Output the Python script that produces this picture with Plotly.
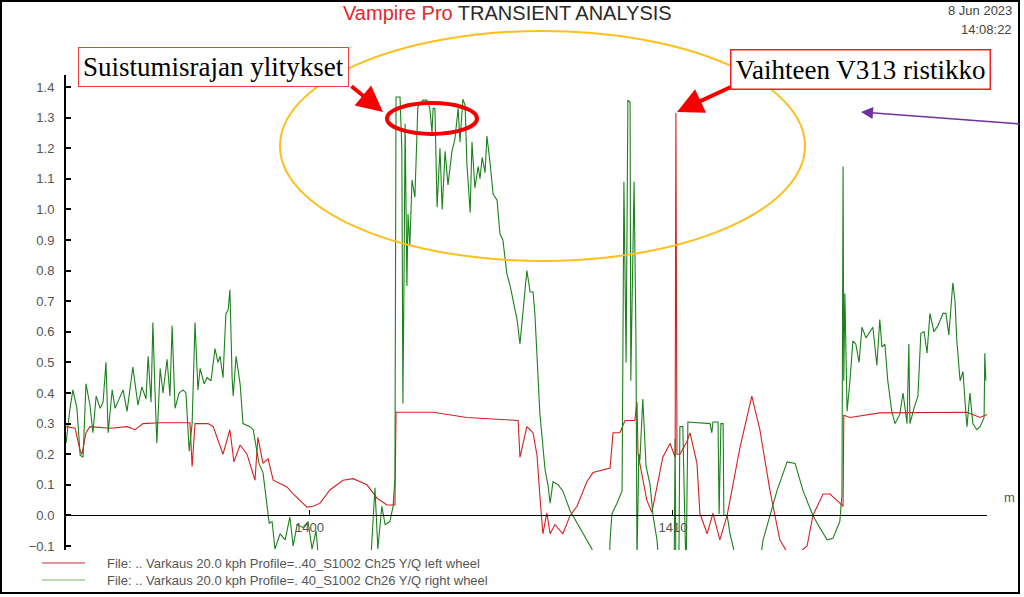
import plotly.graph_objects as go

# ---------------- data (distance in m, Y/Q ratio) ----------------
left_x = [1393.30, 1393.55, 1393.69, 1393.74, 1393.85, 1393.96, 1394.51, 1394.98, 1395.20, 1395.42,
          1395.89, 1396.71, 1396.77, 1396.85, 1397.21, 1397.35, 1397.62, 1397.81, 1397.92, 1398.09,
          1398.28, 1398.50, 1398.58, 1398.72, 1398.86, 1399.00, 1399.38, 1399.55, 1399.93, 1400.10,
          1400.29, 1400.56, 1400.92, 1401.20, 1401.58, 1401.86, 1402.13, 1402.35, 1402.38, 1403.40,
          1404.33, 1405.60, 1405.74, 1405.79, 1405.98, 1406.15, 1406.26, 1406.34, 1406.42, 1406.53,
          1406.62, 1406.75, 1406.97, 1407.17, 1407.36, 1407.63, 1407.80, 1408.27, 1408.35, 1408.54,
          1408.68, 1408.95, 1409.01, 1409.04, 1409.17, 1409.28, 1409.42, 1409.56, 1409.72, 1409.92,
          1410.06, 1410.08, 1410.11, 1410.19, 1410.38, 1410.47, 1410.66, 1410.74, 1410.94, 1411.10,
          1411.29, 1411.49, 1411.84, 1412.17, 1412.39, 1412.67, 1412.94, 1413.14, 1413.49, 1413.69,
          1413.85, 1414.13, 1414.32, 1414.59, 1414.68, 1414.70, 1414.87, 1415.69, 1416.60, 1417.54,
          1418.09, 1418.45, 1418.64]
left_y = [0.29, 0.285, 0.21, 0.20, 0.27, 0.29, 0.285, 0.29, 0.28, 0.30,
          0.303, 0.303, 0.16, 0.30, 0.30, 0.29, 0.20, 0.28, 0.175, 0.23,
          0.20, 0.115, 0.255, 0.17, 0.185, 0.115, 0.093, 0.07, 0.027, 0.03,
          0.04, 0.083, 0.115, 0.12, 0.10, 0.056, 0.034, 0.034, 0.337, 0.337,
          0.32, 0.31, 0.31, 0.19, 0.29, 0.27, 0.195, 0.06, -0.06, 0.008,
          -0.06, -0.03, -0.06, 0.0, 0.03, 0.11, 0.14, 0.155, 0.27, 0.27,
          0.31, 0.31, 0.37, 0.20, 0.12, 0.05, 0.01, 0.09, 0.19, 0.235,
          0.19, 1.315, 0.20, 0.20, 0.24, 0.27, 0.17, 0.007, -0.06, 0.007,
          -0.08, 0.0, 0.22, 0.39, 0.28, 0.08, -0.08, -0.12, -0.12, -0.10,
          0.0, 0.07, 0.07, 0.04, 0.03, 0.327, 0.32, 0.335, 0.335, 0.337,
          0.337, 0.32, 0.33]

right_x = [1393.30, 1393.41, 1393.49, 1393.60, 1393.69, 1393.77, 1393.85, 1393.96, 1394.04, 1394.13,
           1394.24, 1394.32, 1394.40, 1394.46, 1394.57, 1394.65, 1394.76, 1394.87, 1394.98, 1395.14,
           1395.28, 1395.39, 1395.50, 1395.56, 1395.64, 1395.69, 1395.75, 1395.80, 1395.89, 1395.97,
           1396.08, 1396.16, 1396.22, 1396.30, 1396.41, 1396.52, 1396.60, 1396.69, 1396.77, 1396.85,
           1396.93, 1396.99, 1397.10, 1397.18, 1397.29, 1397.40, 1397.48, 1397.54, 1397.62, 1397.70,
           1397.76, 1397.81, 1397.87, 1397.90, 1397.98, 1398.09, 1398.17, 1398.36, 1398.45, 1398.56,
           1398.61, 1398.72, 1398.83, 1398.89, 1398.97, 1399.05, 1399.19, 1399.33, 1399.46, 1399.55,
           1399.66, 1399.82, 1399.96, 1400.07, 1400.18, 1400.29, 1401.66, 1401.80, 1401.88, 1401.99,
           1402.08, 1402.21, 1402.30, 1402.35, 1402.38, 1402.49, 1402.54, 1402.57, 1402.60, 1402.63,
           1402.68, 1402.71, 1402.76, 1402.82, 1402.90, 1402.96, 1402.98, 1403.12, 1403.23, 1403.31,
           1403.37, 1403.40, 1403.45, 1403.51, 1403.59, 1403.65, 1403.73, 1403.81, 1403.92, 1404.00,
           1404.09, 1404.14, 1404.22, 1404.28, 1404.33, 1404.42, 1404.47, 1404.55, 1404.64, 1404.69,
           1404.75, 1404.83, 1404.88, 1404.97, 1405.05, 1405.16, 1405.24, 1405.32, 1405.43, 1405.52,
           1405.60, 1405.71, 1405.79, 1405.87, 1405.98, 1406.07, 1406.15, 1406.20, 1406.26, 1406.34,
           1406.48, 1406.56, 1406.62, 1406.70, 1406.84, 1406.97, 1407.17, 1407.44, 1407.63, 1407.77,
           1407.99, 1408.24, 1408.27, 1408.32, 1408.46, 1408.60, 1408.65, 1408.71, 1408.76, 1408.82,
           1408.84, 1408.90, 1408.93, 1408.98, 1409.01, 1409.06, 1409.09, 1409.17, 1409.26, 1409.37,
           1409.45, 1409.56, 1409.64, 1410.03, 1410.06, 1410.08, 1410.16, 1410.19, 1410.27, 1410.36,
           1410.41, 1411.02, 1411.07, 1411.10, 1411.24, 1411.27, 1411.32, 1411.38, 1411.40, 1411.49,
           1411.57, 1411.65, 1411.84, 1412.34, 1412.48, 1412.67, 1412.86, 1413.14, 1413.36, 1413.58,
           1413.85, 1414.04, 1414.24, 1414.40, 1414.59, 1414.65, 1414.68, 1414.70, 1414.73, 1414.79,
           1414.87, 1414.95, 1415.03, 1415.12, 1415.20, 1415.31, 1415.42, 1415.50, 1415.61, 1415.69,
           1415.75, 1415.83, 1415.91, 1416.02, 1416.11, 1416.16, 1416.24, 1416.33, 1416.44, 1416.49,
           1416.52, 1416.63, 1416.74, 1416.82, 1416.91, 1416.99, 1417.07, 1417.18, 1417.29, 1417.43,
           1417.51, 1417.59, 1417.68, 1417.70, 1417.76, 1417.81, 1417.90, 1417.98, 1418.06, 1418.09,
           1418.17, 1418.25, 1418.36, 1418.45, 1418.56, 1418.58, 1418.61]
right_y = [0.236, 0.35, 0.41, 0.35, 0.197, 0.19, 0.43, 0.36, 0.27, 0.39,
           0.35, 0.37, 0.50, 0.27, 0.41, 0.35, 0.38, 0.41, 0.34, 0.485,
           0.36, 0.42, 0.38, 0.52, 0.37, 0.63, 0.40, 0.236, 0.48, 0.40,
           0.51, 0.39, 0.62, 0.35, 0.40, 0.41, 0.40, 0.21, 0.30, 0.63,
           0.41, 0.48, 0.43, 0.45, 0.44, 0.545, 0.50, 0.52, 0.45, 0.66,
           0.67, 0.737, 0.45, 0.39, 0.52, 0.43, 0.30, 0.29, 0.28, 0.20,
           0.17, 0.14, 0.04, -0.025, -0.02, -0.11, -0.06, -0.08, -0.005, -0.10,
           -0.03, -0.04, -0.02, -0.11, -0.05, -0.20, -0.20, 0.09, -0.11, 0.03,
           -0.03, -0.02, 0.03, 0.12, 1.367, 1.367, 1.20, 0.366, 0.77, 1.28,
           0.75, 0.985, 0.88, 1.096, 1.04, 1.26, 1.335, 1.357, 1.357, 1.33,
           1.25, 1.33, 1.33, 1.007, 1.20, 1.00, 1.19, 1.08, 1.19, 1.23,
           1.33, 1.22, 1.36, 1.34, 1.15, 0.99, 1.22, 1.07, 1.14, 1.10,
           1.17, 1.12, 1.24, 1.15, 1.05, 1.03, 0.92, 0.90, 0.79, 0.75,
           0.70, 0.64, 0.56, 0.66, 0.80, 0.73, 0.73, 0.66, 0.53, 0.33,
           0.15, 0.10, 0.04, 0.11, 0.10, 0.08, 0.015, -0.04, -0.08, -0.11,
           -0.20, -0.20, -0.08, 0.005, 0.04, 0.08, 1.09, 0.50, 1.357, 1.35,
           0.44, 0.99, 1.09, 0.60, -0.15, 0.20, 0.18, 0.38, 0.16, 0.10,
           0.0, -0.08, -0.20, -0.20, 0.25, -0.20, -0.20, 0.29, 0.29, -0.20,
           0.305, 0.30, 0.27, 0.305, 0.305, 0.005, 0.30, 0.30, 0.0, 0.0,
           -0.06, -0.10, -0.20, -0.20, -0.08, 0.0, 0.08, 0.175, 0.17, 0.08,
           0.0, -0.04, -0.08, -0.075, -0.02, 0.07, 1.14, 0.44, 0.725, 0.34,
           0.44, 0.57, 0.56, 0.50, 0.615, 0.58, 0.60, 0.615, 0.49, 0.64,
           0.55, 0.56, 0.44, 0.34, 0.30, 0.31, 0.33, 0.40, 0.30, 0.56,
           0.30, 0.35, 0.39, 0.595, 0.60, 0.53, 0.66, 0.60, 0.62, 0.66,
           0.66, 0.59, 0.725, 0.76, 0.70, 0.57, 0.44, 0.47, 0.33, 0.29,
           0.40, 0.30, 0.28, 0.29, 0.32, 0.53, 0.44]

y_ticks = [-0.1, 0.0, 0.1, 0.2, 0.3, 0.4, 0.5, 0.6, 0.7, 0.8, 0.9, 1.0, 1.1, 1.2, 1.3, 1.4]
x_ticks = [1400, 1410]
x_tick_labels = ["1400", "1410"]
legend_labels = ["File: .. Varkaus 20.0 kph Profile=..40_S1002 Ch25 Y/Q left wheel",
                 "File: .. Varkaus 20.0 kph Profile=. 40_S1002 Ch26 Y/Q right wheel"]

# ---------------- layout geometry ----------------
W, H = 1024, 597
ML, MR, MT, MB = 66, 37, 75, 47
PW, PH = W - ML - MR, H - MT - MB
Y_RANGE = [-0.113, 1.439]
X_RANGE = [1393.30, 1418.64]


def px(x):
    return (x - ML) / PW


def py(y):
    return (H - MB - y) / PH


RED = "rgb(214,32,32)"
GREEN = "rgb(28,128,28)"
GRAY = "#555555"
SANS = "Liberation Sans, Arial, sans-serif"
SERIF = "Liberation Serif, Times New Roman, serif"

fig = go.Figure()
fig.add_trace(go.Scatter(x=left_x, y=left_y, mode="lines", line=dict(color=RED, width=1.1),
                         name="left wheel", showlegend=False))
fig.add_trace(go.Scatter(x=right_x, y=right_y, mode="lines", line=dict(color=GREEN, width=1.1),
                         name="right wheel", showlegend=False))

zero_pos = (0 - Y_RANGE[0]) / (Y_RANGE[1] - Y_RANGE[0])

fig.update_layout(
    width=W, height=H,
    margin=dict(l=ML, r=MR, t=MT, b=MB, pad=0),
    paper_bgcolor="white", plot_bgcolor="white",
    showlegend=False,
    font=dict(family=SANS, color=GRAY, size=12),
    xaxis=dict(range=X_RANGE, tickvals=x_ticks, ticktext=x_tick_labels,
               showgrid=False, zeroline=False, showline=True, linecolor="black", linewidth=1.2,
               ticks="inside", ticklen=5, tickcolor="black", tickwidth=1.2,
               anchor="free", position=zero_pos,
               tickfont=dict(family=SANS, size=13, color=GRAY)),
    yaxis=dict(range=Y_RANGE, tickvals=y_ticks, tickformat=".1f",
               showgrid=False, zeroline=False, showline=True, linecolor="black", linewidth=2,
               ticks="inside", ticklen=5, tickcolor="black", tickwidth=2,
               ticklabelstandoff=7,
               tickfont=dict(family=SANS, size=13, color=GRAY)),
)

shapes = []
# outer frame
shapes.append(dict(type="rect", xref="paper", yref="paper", x0=px(1), x1=px(1019), y0=py(1), y1=py(593),
                   line=dict(color="black", width=2), fillcolor="rgba(0,0,0,0)", layer="above"))
# legend lines
shapes.append(dict(type="line", xref="paper", yref="paper", x0=px(42), x1=px(85), y0=py(563), y1=py(563),
                   line=dict(color="rgb(200,50,50)", width=1.2)))
shapes.append(dict(type="line", xref="paper", yref="paper", x0=px(42), x1=px(85), y0=py(580), y1=py(580),
                   line=dict(color="rgb(110,180,110)", width=1.2)))
# orange ellipse
shapes.append(dict(type="circle", xref="paper", yref="paper", x0=px(280), x1=px(805), y0=py(31), y1=py(261),
                   line=dict(color="rgb(255,190,30)", width=2), layer="above"))
# red ellipse
shapes.append(dict(type="circle", xref="paper", yref="paper", x0=px(387), x1=px(477), y0=py(103), y1=py(134),
                   line=dict(color="rgb(240,0,0)", width=4), layer="above"))
fig.update_layout(shapes=shapes)

ann = []
# title
ann.append(dict(xref="paper", yref="paper", x=px(507), y=py(13), xanchor="center", yanchor="middle",
                showarrow=False,
                text="<span style='color:#e3262b'>Vampire Pro</span> TRANSIENT ANALYSIS",
                font=dict(family=SANS, size=20, color="#2a2a2a")))
ann.append(dict(xref="paper", yref="paper", x=px(1014), y=py(11), xanchor="right", yanchor="middle",
                showarrow=False, text="8 Jun 2023", font=dict(family=SANS, size=13, color="#444")))
ann.append(dict(xref="paper", yref="paper", x=px(1014), y=py(29), xanchor="right", yanchor="middle",
                showarrow=False, text="14:08:22", font=dict(family=SANS, size=13, color="#444")))
# axis unit
ann.append(dict(xref="paper", yref="paper", x=px(1009), y=py(497), xanchor="center", yanchor="middle",
                showarrow=False, text="m", font=dict(family=SANS, size=13, color=GRAY)))
# legend texts
ann.append(dict(xref="paper", yref="paper", x=px(105), y=py(563), xanchor="left", yanchor="middle",
                showarrow=False, text=legend_labels[0], font=dict(family=SANS, size=13, color=GRAY)))
ann.append(dict(xref="paper", yref="paper", x=px(105), y=py(580), xanchor="left", yanchor="middle",
                showarrow=False, text=legend_labels[1], font=dict(family=SANS, size=13, color=GRAY)))
# callout arrows
ann.append(dict(xref="paper", yref="paper", x=px(383), y=py(112), ax=-33, ay=-27, text="",
                showarrow=True, arrowhead=2, arrowsize=1.3, arrowwidth=4, arrowcolor="rgb(245,0,0)"))
ann.append(dict(xref="paper", yref="paper", x=px(677), y=py(112), ax=58, ay=-27, text="",
                showarrow=True, arrowhead=2, arrowsize=1.3, arrowwidth=4, arrowcolor="rgb(245,0,0)"))
ann.append(dict(xref="paper", yref="paper", x=px(861), y=py(112), ax=160, ay=12, text="",
                showarrow=True, arrowhead=2, arrowsize=1.6, arrowwidth=1.5, arrowcolor="rgb(112,48,160)"))
# callout boxes
ann.append(dict(xref="paper", yref="paper", x=px(213), y=py(67), xanchor="center", yanchor="middle",
                showarrow=False, text="Suistumisrajan ylitykset",
                font=dict(family=SERIF, size=27, color="black"),
                bgcolor="white", bordercolor="rgb(245,60,60)", borderwidth=1, borderpad=4))
ann.append(dict(xref="paper", yref="paper", x=px(860), y=py(69), xanchor="center", yanchor="middle",
                showarrow=False, text="Vaihteen V313 ristikko",
                font=dict(family=SERIF, size=27, color="black"),
                bgcolor="white", bordercolor="rgb(245,30,30)", borderwidth=1.5, borderpad=4))
fig.update_layout(annotations=ann)

fig.write_html("out.html")
